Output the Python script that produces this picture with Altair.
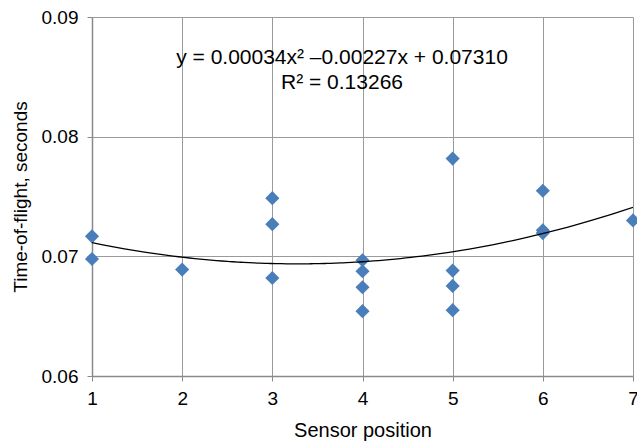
import altair as alt
import pandas as pd

positions = [1, 1, 2, 3, 3, 3, 4, 4, 4, 4, 5, 5, 5, 5, 6, 6, 6, 7]
times = [0.07167, 0.06978, 0.06889, 0.07486, 0.07269, 0.06819,
         0.06967, 0.06875, 0.06742, 0.06542,
         0.07817, 0.06881, 0.06753, 0.06550,
         0.07548, 0.07217, 0.07194, 0.07300]
x_ticks = [1, 2, 3, 4, 5, 6, 7]
y_ticks = [0.06, 0.07, 0.08, 0.09]
eq_line1 = "y = 0.00034x\u00b2 \u20130.00227x + 0.07310"
eq_line2 = "R\u00b2 = 0.13266"

df = pd.DataFrame({"pos": positions, "tof": times})

FONT = "Liberation Sans"
grid_col = "#9a9a9a"

xs = alt.Scale(domain=[1, 7], nice=False, zero=False)
ys = alt.Scale(domain=[0.06, 0.09], nice=False, zero=False)

xax = alt.Axis(values=x_ticks, format="d", title="Sensor position", grid=True,
               gridColor=grid_col, gridWidth=1, domainColor="#8a8a8a", domainWidth=1.5,
               tickColor="#8a8a8a", tickSize=5, labelFont=FONT, labelFontSize=19,
               labelColor="#000", labelPadding=8, labelFlush=False, labelBound=False,
               labelOverlap=False,
               titleFont=FONT, titleFontSize=20,
               titleFontWeight="normal", titleColor="#000", titlePadding=12)
yax = alt.Axis(values=y_ticks, format=".2f", title="Time-of-flight, seconds", grid=True,
               gridColor=grid_col, gridWidth=1, domainColor="#8a8a8a", domainWidth=1.5,
               tickColor="#8a8a8a", tickSize=5, labelFont=FONT, labelFontSize=19,
               labelColor="#000", labelPadding=9, labelFlush=False, labelBound=False,
               labelOverlap=False,
               titleFont=FONT, titleFontSize=19,
               titleFontWeight="normal", titleColor="#000", titlePadding=11)

base = alt.Chart(df)

points = base.mark_point(shape="diamond", filled=True, color="#4a7ebb", size=200, opacity=1).encode(
    x=alt.X("pos:Q", scale=xs, axis=xax),
    y=alt.Y("tof:Q", scale=ys, axis=yax),
)

trend = base.transform_regression("pos", "tof", method="poly", order=2, extent=[1, 7]).mark_line(
    color="#000", strokeWidth=1.3, clip=True
).encode(
    x=alt.X("pos:Q", scale=xs),
    y=alt.Y("tof:Q", scale=ys),
)

eq1 = alt.Chart(pd.DataFrame({"t": [eq_line1]})).mark_text(
    font=FONT, fontSize=21, color="#000", align="center", baseline="middle"
).encode(text="t:N", x=alt.value(250), y=alt.value(41))
eq2 = alt.Chart(pd.DataFrame({"t": [eq_line2]})).mark_text(
    font=FONT, fontSize=21, color="#000", align="center", baseline="middle"
).encode(text="t:N", x=alt.value(250), y=alt.value(66))

chart = alt.layer(points, trend, eq1, eq2).properties(
    width=541, height=359,
    autosize=alt.AutoSizeParams(type="none"),
    padding={"left": 92, "top": 17, "right": 4, "bottom": 69},
).configure_view(stroke=None).configure(background="white")

chart.save("out.html", embed_options={"renderer": "svg", "actions": False})
